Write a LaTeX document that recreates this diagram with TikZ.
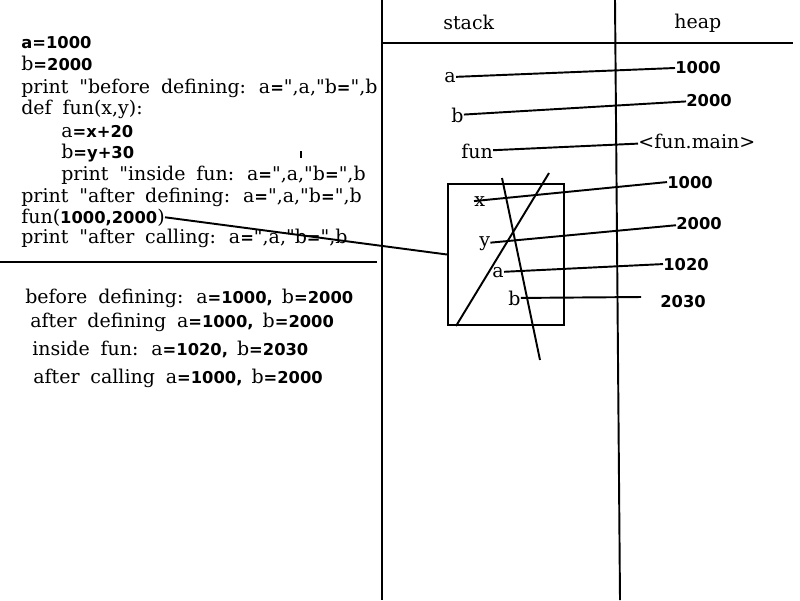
\documentclass[tikz,border=0pt]{standalone}
\usepackage{fontspec}
\setmainfont{DejaVu Serif}[Ligatures=TeXOff, WordSpace=1.8]
\newfontfamily\numfont[Scale=0.86, WordSpace=1.6]{DejaVu Sans}
\newcommand{\nb}[1]{{\numfont\bfseries #1}}

\begin{document}
\begin{tikzpicture}[x=0.02cm, y=-0.02cm,
	txt/.style={inner sep=0pt, anchor=base west, font=\fontsize{10.8}{13}\selectfont},
	wire/.style={-, line width=1.1pt}]
	\useasboundingbox (0,0) rectangle (800,600);
	
	% code
	\node[txt] (l1) at (21, 48)   {\nb{a=1000}};
	\node[txt] (l2) at (21, 70)   {b\nb{=2000}};
	\node[txt] (l3) at (21, 93)   {print "before defining: a\nb{=}",a,"b\nb{=}",b};
	\node[txt] (l4) at (21, 114)  {def fun(x,y):};
	\node[txt] (l5) at (61, 137)  {a\nb{=x+20}};
	\node[txt] (l6) at (61, 158)  {b\nb{=y+30}};
	\node[txt] (l7) at (61, 180)  {print "inside fun: a\nb{=}",a,"b\nb{=}",b};
	\node[txt] (l8) at (21, 202)  {print "after defining: a\nb{=}",a,"b\nb{=}",b};
	\node[txt] (call) at (21, 223) {fun(\nb{1000,2000})};
	\node[txt] (l10) at (21, 243) {print "after calling: a\nb{=}",a,"b\nb{=}",b};
	
	% output
	\node[txt] (o1) at (25, 303)  {before defining: a\nb{=1000, }b\nb{=2000}};
	\node[txt] (o2) at (30, 327)  {after defining a\nb{=1000, }b\nb{=2000}};
	\node[txt] (o3) at (32, 355)  {inside fun: a\nb{=1020, }b\nb{=2030}};
	\node[txt] (o4) at (33, 383)  {after calling a\nb{=1000, }b\nb{=2000}};
	
	% stack and heap
	\node[txt] (stack) at (443, 29) {stack};
	\node[txt] (heap)  at (674, 28) {heap};
	
	\node[txt] (sa)   at (444, 82)  {a};
	\node[txt] (sb)   at (451, 122) {b};
	\node[txt] (sfun) at (461, 158) {fun};
	\node[txt] (sx)   at (474, 206) {x};
	\node[txt] (sy)   at (479, 246) {y};
	\node[txt] (sa2)  at (492, 277) {a};
	\node[txt] (sb2)  at (508, 305) {b};
	
	\node[txt] (ha)   at (675, 73)  {\nb{1000}};
	\node[txt] (hb)   at (686, 106) {\nb{2000}};
	\node[txt] (hfun) at (638, 148) {<fun.main>};
	\node[txt] (hx)   at (667, 188) {\nb{1000}};
	\node[txt] (hy)   at (676, 229) {\nb{2000}};
	\node[txt] (ha2)  at (663, 270) {\nb{1020}};
	\node[txt] (hb2)  at (660, 307) {\nb{2030}};
	\coordinate (end2) at (641, 297);
	
	% frame of fun
	\node[draw, line width=1.1pt, minimum width=2.32cm, minimum height=2.82cm] (frame) at (506, 254.5) {};
	
	% borders
	\draw[wire] (382, 0) -- (382, 600);
	\draw[wire] (615, 0) -- (620, 600);
	\draw[wire] (383, 43) -- (793, 43);
	\draw[wire] (0, 262) -- (377, 262);
	\draw[wire] (301, 151) -- (301, 158);
	
	\path[wire] (sa) edge (ha);
	\path[wire] (sb) edge (hb);
	\path[wire] (sfun) edge (hfun);
	\path[wire] (sx.west) edge (hx.west);
	\path[wire] (sy) edge (hy);
	\path[wire] (sa2) edge (ha2.west);
	\path[wire] (sb2.east) edge (end2);
	\path[wire] (call.east) edge (frame.west);
	
	% crossed out
	\draw[wire] (456, 326) -- (549, 173);
	\draw[wire] (502, 178) -- (540, 360);
	
\end{tikzpicture}
\end{document}
